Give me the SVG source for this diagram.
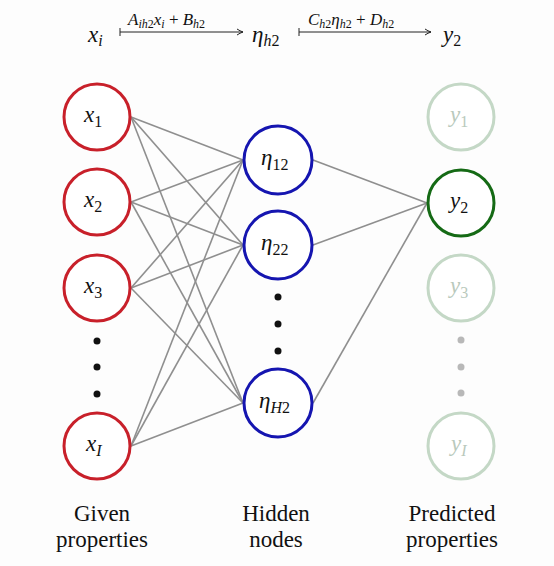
<svg xmlns="http://www.w3.org/2000/svg" width="554" height="566" viewBox="0 0 554 566">
<style>
.m{font-style:italic;font-size:23px;fill:#111}
.s{font-style:normal;font-size:16px}
.si{font-style:italic;font-size:16px}
.lab{font-size:23px;fill:#111;text-anchor:middle}
.red{fill:#fff;stroke:#c8202a;stroke-width:3}
.blue{fill:#fff;stroke:#1515b0;stroke-width:3}
.green{fill:#fff;stroke:#156a15;stroke-width:3}
.faint{fill:#fff;stroke:#c4d8c6;stroke-width:3}
.ft{fill:#b9c9bc}
.edge{stroke:#8f8f8f;stroke-width:1.6;fill:none}
.arr{stroke:#222;stroke-width:1;fill:none}
.fm{font-style:italic;font-size:17px;fill:#111}
</style>
<defs>
<marker id="ah" markerWidth="8" markerHeight="8" refX="7" refY="4" orient="auto" markerUnits="userSpaceOnUse">
<path d="M1,1 Q4,3 7,4 Q4,5 1,7" fill="none" stroke="#222" stroke-width="1"/>
</marker>
</defs>
<rect width="554" height="566" fill="#fdfdfd"/>
<g id="formula">
<text class="m" font-family="'Liberation Serif', serif" x="88" y="42" font-size="25">x<tspan class="si" dy="4">i</tspan></text>
<line class="arr" x1="120" y1="32" x2="243" y2="32" marker-end="url(#ah)"/>
<line class="arr" x1="120" y1="28" x2="120" y2="36"/>
<text class="fm" font-family="'Liberation Serif', serif" x="128" y="25">A<tspan font-size="12" dy="3">ih</tspan><tspan font-size="12" font-style="normal">2</tspan><tspan dy="-3">x</tspan><tspan font-size="12" dy="3">i</tspan><tspan font-style="normal" dy="-3"> + </tspan>B<tspan font-size="12" dy="3">h</tspan><tspan font-size="12" font-style="normal">2</tspan></text>
<text class="m" font-family="'Liberation Serif', serif" x="252" y="42" font-size="25">η<tspan class="si" dy="4">h</tspan><tspan class="s">2</tspan></text>
<line class="arr" x1="299" y1="32" x2="431" y2="32" marker-end="url(#ah)"/>
<line class="arr" x1="299" y1="28" x2="299" y2="36"/>
<text class="fm" font-family="'Liberation Serif', serif" x="308" y="25">C<tspan font-size="12" dy="3">h</tspan><tspan font-size="12" font-style="normal">2</tspan><tspan dy="-3">η</tspan><tspan font-size="12" dy="3">h</tspan><tspan font-size="12" font-style="normal">2</tspan><tspan font-style="normal" dy="-3"> + </tspan>D<tspan font-size="12" dy="3">h</tspan><tspan font-size="12" font-style="normal">2</tspan></text>
<text class="m" font-family="'Liberation Serif', serif" x="443" y="42" font-size="25">y<tspan class="s" dy="4">2</tspan></text>
</g>
<g id="connectors">
<line class="edge" x1="131" y1="117" x2="243" y2="160"/>
<line class="edge" x1="131" y1="117" x2="243" y2="245"/>
<line class="edge" x1="131" y1="117" x2="243" y2="403"/>
<line class="edge" x1="131" y1="202" x2="243" y2="160"/>
<line class="edge" x1="131" y1="202" x2="243" y2="245"/>
<line class="edge" x1="131" y1="202" x2="243" y2="403"/>
<line class="edge" x1="131" y1="288" x2="243" y2="160"/>
<line class="edge" x1="131" y1="288" x2="243" y2="245"/>
<line class="edge" x1="131" y1="288" x2="243" y2="403"/>
<line class="edge" x1="131" y1="446" x2="243" y2="160"/>
<line class="edge" x1="131" y1="446" x2="243" y2="245"/>
<line class="edge" x1="131" y1="446" x2="243" y2="403"/>
<line class="edge" x1="313" y1="160" x2="427" y2="203"/>
<line class="edge" x1="313" y1="245" x2="427" y2="203"/>
<line class="edge" x1="313" y1="403" x2="427" y2="203"/>
</g>
<g id="x1"><circle class="red" cx="97" cy="117" r="33"/><text class="m" font-family="'Liberation Serif', serif" x="84" y="122">x<tspan class="s" dy="5">1</tspan></text></g>
<g id="x2"><circle class="red" cx="97" cy="202" r="33"/><text class="m" font-family="'Liberation Serif', serif" x="84" y="207">x<tspan class="s" dy="5">2</tspan></text></g>
<g id="x3"><circle class="red" cx="97" cy="288" r="33"/><text class="m" font-family="'Liberation Serif', serif" x="84" y="293">x<tspan class="s" dy="5">3</tspan></text></g>
<g id="xdots"><circle cx="97" cy="341" r="3.5" fill="#111"/><circle cx="97" cy="367" r="3.5" fill="#111"/><circle cx="97" cy="394" r="3.5" fill="#111"/></g>
<g id="xI"><circle class="red" cx="97" cy="446" r="33"/><text class="m" font-family="'Liberation Serif', serif" x="86" y="451">x<tspan class="si" dy="5">I</tspan></text></g>
<g id="h12"><circle class="blue" cx="278" cy="160" r="34"/><text class="m" font-family="'Liberation Serif', serif" x="261" y="165">η<tspan class="s" dy="5">12</tspan></text></g>
<g id="h22"><circle class="blue" cx="278" cy="245" r="34"/><text class="m" font-family="'Liberation Serif', serif" x="261" y="250">η<tspan class="s" dy="5">22</tspan></text></g>
<g id="hdots"><circle cx="278" cy="297" r="3.5" fill="#111"/><circle cx="278" cy="324" r="3.5" fill="#111"/><circle cx="278" cy="351" r="3.5" fill="#111"/></g>
<g id="hH2"><circle class="blue" cx="278" cy="403" r="34"/><text class="m" font-family="'Liberation Serif', serif" x="259" y="408">η<tspan class="si" dy="5">H</tspan><tspan class="s">2</tspan></text></g>
<g id="y1"><circle class="faint" cx="461" cy="117" r="33"/><text class="m ft" font-family="'Liberation Serif', serif" x="450" y="122">y<tspan class="s" dy="5">1</tspan></text></g>
<g id="y2"><circle class="green" cx="461" cy="203" r="33"/><text class="m" font-family="'Liberation Serif', serif" x="450" y="208">y<tspan class="s" dy="5">2</tspan></text></g>
<g id="y3"><circle class="faint" cx="461" cy="288" r="33"/><text class="m ft" font-family="'Liberation Serif', serif" x="450" y="293">y<tspan class="s" dy="5">3</tspan></text></g>
<g id="ydots"><circle cx="461" cy="340" r="3.5" fill="#b8b8b8"/><circle cx="461" cy="367" r="3.5" fill="#b8b8b8"/><circle cx="461" cy="393" r="3.5" fill="#b8b8b8"/></g>
<g id="yI"><circle class="faint" cx="461" cy="446" r="33"/><text class="m ft" font-family="'Liberation Serif', serif" x="451" y="451">y<tspan class="si" dy="5">I</tspan></text></g>
<g id="labels">
<text class="lab" font-family="'Liberation Serif', serif" x="102" y="521">Given</text>
<text class="lab" font-family="'Liberation Serif', serif" x="102" y="547">properties</text>
<text class="lab" font-family="'Liberation Serif', serif" x="276" y="521">Hidden</text>
<text class="lab" font-family="'Liberation Serif', serif" x="276" y="547">nodes</text>
<text class="lab" font-family="'Liberation Serif', serif" x="452" y="521">Predicted</text>
<text class="lab" font-family="'Liberation Serif', serif" x="452" y="547">properties</text>
</g>
</svg>
